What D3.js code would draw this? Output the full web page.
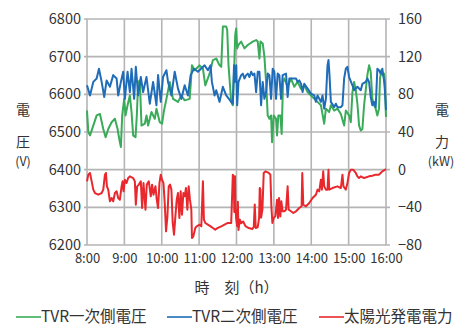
<!DOCTYPE html>
<html>
<head>
<meta charset="utf-8">
<script src="https://cdn.jsdelivr.net/npm/d3@7/dist/d3.min.js"></script>
<style>
  body { margin: 0; background: #fff; }
  text { font-family: "Noto Sans CJK JP", "Noto Sans", sans-serif; fill: #333; }
</style>
</head>
<body>
<svg id="chart" width="469" height="327"></svg>
<script>
// minutes after 8:00
const timeTicks = [0, 60, 120, 180, 240, 300, 360, 420, 480];
const timeLabels = ['8:00', '9:00', '10:00', '11:00', '12:00', '13:00', '14:00', '15:00', '16:00'];
const voltTicks = [6200, 6300, 6400, 6500, 6600, 6700, 6800];
const powerTicks = [-80, -40, 0, 40, 80, 120, 160];
const seriesNames = ['TVR一次側電圧', 'TVR二次側電圧', '太陽光発電電力'];

// [minutes, V]
const primaryVolt = [[0,6557],[2.1,6500],[4.8,6491],[10.1,6517],[15.5,6544],[20.8,6548],[26.1,6508],[29.9,6486],[34.1,6508],[39.5,6526],[44.8,6535],[49.1,6508],[51.7,6482],[54.4,6460],[56.5,6544],[59.7,6588],[61.9,6544],[65.1,6571],[68.8,6597],[71.5,6553],[74.1,6491],[77.9,6486],[80,6544],[82.1,6633],[84.8,6637],[87.5,6517],[92.8,6522],[95.5,6544],[98.1,6517],[103.5,6553],[108.8,6535],[111.5,6562],[116.8,6526],[120.5,6522],[123.2,6553],[127.5,6588],[132.8,6633],[138.1,6588],[146.1,6580],[151.5,6597],[156.8,6584],[164.8,6588],[166.4,6624],[168.5,6677],[172.8,6664],[180.8,6677],[186.1,6668],[189.9,6624],[196.8,6655],[202.1,6691],[207.5,6695],[212.8,6677],[215.5,6673],[217.1,6740],[218.1,6780],[223.5,6780],[225.1,6771],[227.2,6677],[231.5,6580],[234.1,6571],[236.8,6695],[237.9,6757],[239.5,6775],[241.1,6722],[243.2,6731],[247.5,6740],[252.8,6722],[258.1,6731],[266.1,6740],[271.5,6744],[274.1,6740],[276.8,6695],[278.4,6740],[282.1,6735],[284.8,6700],[287.5,6633],[290.1,6544],[292.8,6535],[295.5,6544],[297.1,6473],[299.7,6544],[303.5,6535],[305.1,6491],[307.2,6544],[310.4,6544],[312.5,6495],[314.7,6633],[316.8,6642],[322.1,6620],[327.5,6642],[332.8,6620],[338.1,6633],[343.5,6615],[348.8,6624],[354.1,6606],[359.5,6597],[364.8,6588],[370.1,6580],[375.5,6571],[380.8,6522],[383.5,6562],[388.8,6553],[391.5,6571],[396.8,6557],[402.1,6562],[407.5,6548],[412.8,6517],[415.5,6557],[420.8,6544],[423.5,6526],[426.1,6606],[428.8,6633],[431.5,6611],[434.1,6575],[436.8,6517],[439.5,6504],[442.1,6508],[444.8,6571],[447.5,6611],[450.1,6651],[452.8,6677],[455.5,6660],[458.1,6588],[460.8,6571],[463.5,6562],[466.1,6544],[468.8,6562],[470.4,6642],[472.5,6664],[474.7,6651],[476.8,6655],[478.4,6633],[479.5,6562],[480,6540]];

const secondaryVolt = [[0,6624],[4.8,6597],[10.1,6633],[15.5,6642],[19.2,6668],[23.5,6633],[27.7,6593],[31.5,6637],[36.8,6620],[42.1,6651],[47.5,6642],[50.1,6597],[54.4,6633],[58.1,6660],[60.8,6588],[65.1,6660],[68.8,6606],[71.5,6668],[75.7,6588],[78.4,6673],[82.1,6597],[86.4,6646],[90.1,6606],[95.5,6646],[100.8,6575],[106.1,6633],[111.5,6571],[114.1,6651],[118.4,6580],[122.1,6646],[127.5,6664],[130.1,6633],[135.5,6597],[140.8,6660],[146.1,6615],[151.5,6588],[156.8,6624],[162.1,6597],[166.4,6651],[171.7,6668],[178.1,6660],[188.8,6677],[194.1,6664],[198.4,6677],[200.5,6633],[204.8,6597],[207.5,6611],[212.8,6580],[218.1,6620],[223.5,6597],[231.5,6580],[234.1,6575],[236,6677],[237,6633],[239.5,6677],[241.1,6571],[243.2,6633],[247.5,6651],[250.1,6655],[252.8,6642],[255.5,6651],[258.1,6655],[260.8,6646],[263.5,6660],[266.1,6651],[268.8,6655],[271.5,6606],[274.1,6660],[276.8,6660],[279.5,6571],[282.1,6633],[284.8,6588],[287.5,6606],[290.1,6655],[292.8,6651],[295.5,6588],[298.1,6668],[300.8,6660],[303.5,6588],[306.1,6655],[308.8,6651],[311.5,6588],[314.1,6651],[319.5,6655],[322.1,6593],[324.8,6642],[330.1,6642],[335.5,6642],[338.1,6633],[340.8,6637],[343.5,6628],[346.1,6606],[348.8,6628],[354.1,6615],[359.5,6602],[364.8,6597],[367.5,6580],[370.1,6597],[375.5,6580],[378.1,6597],[380.8,6562],[383.5,6588],[386.1,6677],[387.7,6691],[389.3,6651],[391.5,6580],[396.8,6566],[399.5,6575],[402.1,6566],[407.5,6566],[410.1,6571],[412.8,6642],[415.5,6668],[418.1,6673],[420.8,6646],[426.1,6624],[428.8,6611],[434.1,6620],[439.5,6611],[442.1,6628],[447.5,6633],[450.1,6642],[452.8,6633],[455.5,6593],[458.1,6571],[460.8,6580],[463.5,6566],[466.1,6668],[468.8,6664],[471.5,6655],[474.1,6668],[476.8,6637],[478,6615],[479,6588],[480,6558]];

// [minutes, kW]
const pvPower = [[0,-12.4],[2.1,-5.3],[4.8,-3.5],[7.5,-12.4],[10.1,-21.2],[12.8,-24.8],[18.1,-26.6],[23.5,-24.8],[26.1,-21.2],[28.8,-5.3],[30.4,-3.5],[32,-17.7],[34.1,-21.2],[36.8,-33.6],[39.5,-30.1],[42.1,-33.6],[44.8,-24.8],[47.5,-23],[50.1,-30.1],[52.8,-31.9],[55.5,-17.7],[57.1,-12.4],[58.7,-23],[60.8,-10.6],[63.5,-14.2],[66.1,-8.9],[68.8,-7.1],[74.1,-8.9],[76.8,-12.4],[78.4,-37.2],[80.5,-17.7],[83.2,-15.9],[86.4,-12.4],[88.5,-40.7],[90.7,-14.2],[93.9,-42.5],[96,-15.9],[99.2,-12.4],[102.4,-28.3],[104.5,-15.9],[106.7,-26.6],[109.9,-17.7],[112,-31.9],[114.1,-40.7],[116.3,-14.2],[118.4,-5.3],[120.5,-10.6],[122.7,-14.2],[124.8,-35.4],[126.9,-65.5],[129.1,-49.6],[131.2,-17.7],[133.3,-15.9],[135.5,-21.2],[137.6,-56.6],[139.7,-69],[141.9,-49.6],[144,-31.9],[146.1,-24.8],[148.3,-51.3],[150.4,-23],[152.5,-47.8],[154.7,-24.8],[156.8,-28.3],[158.9,-19.5],[161.1,-42.5],[163.2,-17.7],[165.3,-31.9],[167.5,-42.5],[168.5,-72.6],[170.7,-70.8],[173.9,-61.9],[176,-60.2],[180.8,-58.4],[183.5,-60.2],[186.1,-12.4],[187.7,-53.1],[189.9,-56.6],[194.1,-58.4],[198.4,-60.2],[202.1,-61.9],[205.9,-63.7],[210.1,-61.9],[215.5,-60.2],[220.8,-58.4],[226.1,-56.6],[231.5,-56.6],[234.1,-5.3],[235.5,-7.1],[236.5,-45],[237.5,-7.1],[238.3,-40],[239.5,-52],[241.1,-60],[242.2,-34],[243.2,-64],[245.3,-53],[247.5,-57],[250.7,-55],[254.4,-60],[259.7,-62],[265.1,-63],[267.7,-61],[269.3,-37],[270.9,-62],[274.1,-61],[276.3,-51],[277.3,-19.5],[278.4,-21],[279.5,-51],[281.6,-42.5],[283.7,-3.5],[286.4,-1.8],[291.7,-3.5],[294.4,-5.3],[296,-38.9],[297.6,-56.6],[299.7,-51.3],[302.4,-49.6],[305.1,-31.9],[306.7,-51.3],[308.3,-30.1],[310.4,-49.6],[312,-33.6],[314.1,-44.2],[316.8,-44.2],[319.5,-42.5],[322.1,-17.7],[323.7,-42.5],[327.5,-44.2],[331.2,-46],[335.5,-44.2],[340.8,-40.7],[344.5,-38.9],[345.6,-3.5],[347.2,-37.2],[351.5,-38.9],[356.8,-35.4],[362.1,-30.1],[367.5,-26.6],[370.1,-21.2],[372.8,-23],[375.5,-10.6],[377.1,-21.2],[379.2,-1.8],[380.8,-17.7],[383.5,-21.2],[386.1,-21.2],[387.7,0],[388.8,-21.2],[394.1,-19.5],[402.1,-17.7],[407.5,-19.5],[410.1,-5.3],[411.7,-17.7],[415.5,-21.2],[418.1,-14.2],[420.8,-3.5],[423.5,0],[427.2,0],[431.5,-3.5],[434.1,-7.1],[436.8,-8.9],[439.5,-7.1],[444.8,-8.9],[452.8,-7.1],[458.1,-6.4],[463.5,-5.3],[468.8,-5.3],[471.5,-3.5],[474.1,-1.8],[476.8,-0.7],[480,0.5]];

const colors = ['#3aab58', '#1f6cb8', '#e8282c'];

const plot = { left: 87, right: 386, top: 19, bottom: 245 };
const svg = d3.select('#chart');

const x = d3.scaleLinear().domain([0, 480]).range([plot.left, plot.right]);
const yV = d3.scaleLinear().domain([6200, 6800]).range([plot.bottom, plot.top]);
const yP = d3.scaleLinear().domain([-80, 160]).range([plot.bottom, plot.top]);

// grid
const grid = svg.append('g').attr('stroke', '#b4b4b4').attr('stroke-width', 1.6);
grid.selectAll('.hg')
  .data(voltTicks)
  .join('line')
    .attr('x1', plot.left - 3)
    .attr('x2', plot.right + 4)
    .attr('y1', d => yV(d))
    .attr('y2', d => yV(d));
grid.selectAll('.vg')
  .data(timeTicks)
  .join('line')
    .attr('x1', d => x(d))
    .attr('x2', d => x(d))
    .attr('y1', plot.top)
    .attr('y2', plot.bottom);

// axes (labels only, grid drawn above)
const leftAxis = svg.append('g')
  .attr('transform', `translate(${plot.left - 6},0)`)
  .call(d3.axisLeft(yV).tickValues(voltTicks).tickFormat(d3.format('d')).tickSize(0).tickPadding(0));
const rightAxis = svg.append('g')
  .attr('transform', `translate(${plot.right + 12},0)`)
  .call(d3.axisRight(yP).tickValues(powerTicks).tickFormat(d3.format('d')).tickSize(0).tickPadding(0));
const bottomAxis = svg.append('g')
  .attr('transform', `translate(0,${plot.bottom + 9})`)
  .call(d3.axisBottom(x).tickValues(timeTicks).tickFormat((d, i) => timeLabels[i]).tickSize(0).tickPadding(0));

[leftAxis, rightAxis, bottomAxis].forEach(a => {
  a.select('.domain').remove();
  a.selectAll('text').attr('fill', '#333').style('font-family', '"Noto Sans CJK JP", sans-serif');
});
leftAxis.selectAll('text').attr('font-size', 14.5);
rightAxis.selectAll('text').attr('font-size', 14.5);
bottomAxis.selectAll('text').attr('font-size', 13);

// series
const lineV = d3.line().x(d => x(d[0])).y(d => yV(d[1]));
const lineP = d3.line().x(d => x(d[0])).y(d => yP(d[1]));

const series = [
  { data: primaryVolt, line: lineV },
  { data: secondaryVolt, line: lineV },
  { data: pvPower, line: lineP }
];
svg.append('g')
  .selectAll('path')
  .data(series)
  .join('path')
    .attr('d', d => d.line(d.data))
    .attr('fill', 'none')
    .attr('stroke', (d, i) => colors[i])
    .attr('stroke-width', 2)
    .attr('stroke-linejoin', 'round');

// axis titles
const titleLeft = svg.append('g').attr('text-anchor', 'middle');
titleLeft.append('text').attr('x', 23).attr('y', 115).attr('font-size', 14).text('電');
titleLeft.append('text').attr('x', 23).attr('y', 147).attr('font-size', 14).text('圧');
titleLeft.append('text').attr('x', 23).attr('y', 166).attr('font-size', 12.5).text('(V)');

const titleRight = svg.append('g').attr('text-anchor', 'middle');
titleRight.append('text').attr('x', 442).attr('y', 115).attr('font-size', 14).text('電');
titleRight.append('text').attr('x', 442).attr('y', 147).attr('font-size', 14).text('力');
titleRight.append('text').attr('x', 441).attr('y', 166).attr('font-size', 12.5).text('(kW)');

svg.append('text')
  .attr('x', (plot.left + plot.right) / 2)
  .attr('y', 293)
  .attr('text-anchor', 'middle')
  .attr('font-size', 15)
  .text('時　刻（h）');

// legend
const legendX = [16, 167, 319];
const legend = svg.append('g')
  .selectAll('g')
  .data(seriesNames)
  .join('g')
    .attr('transform', (d, i) => `translate(${legendX[i]},317)`);
legend.append('line')
  .attr('x1', 0).attr('x2', 25)
  .attr('stroke', (d, i) => colors[i])
  .attr('stroke-width', 1.6);
legend.append('text')
  .attr('x', 25)
  .attr('y', 4.5)
  .attr('font-size', 15.5)
  .text(d => d);
</script>
</body>
</html>
